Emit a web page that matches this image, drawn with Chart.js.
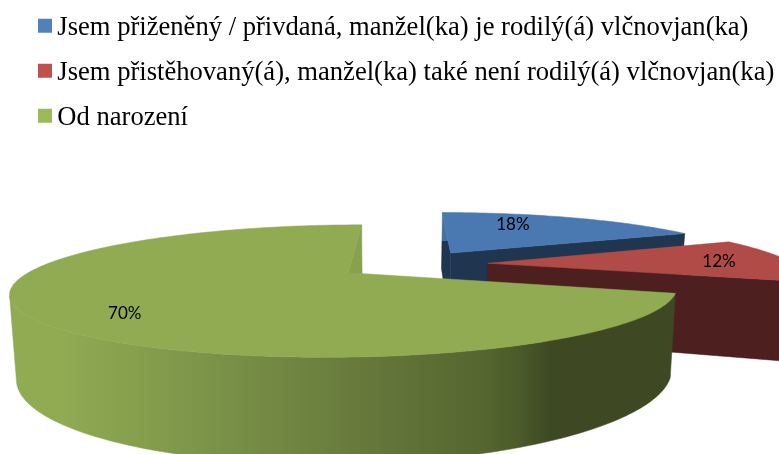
<!DOCTYPE html>
<html>
<head>
<meta charset="utf-8">
<style>html,body{margin:0;padding:0;background:#fff;overflow:hidden}canvas{display:block}</style>
<script src="https://cdn.jsdelivr.net/npm/chart.js@4"></script>
</head>
<body>
<canvas id="c" width="779" height="454"></canvas>
<script>
const categories = [
  'Jsem přiženěný / přivdaná, manžel(ka) je rodilý(á) vlčnovjan(ka)',
  'Jsem přistěhovaný(á), manžel(ka) také není rodilý(á) vlčnovjan(ka)',
  'Od narození'
];
const shares = [18, 12, 70];
const legendColors = ['#4f81bd', '#c0504d', '#9bbb59'];
const topColors = ['#4a78b0', '#b04b48', '#90ab52'];
const startWallColors = ['#45709f', '#4d1f1f', '#89a04c'];
const endWallColors = ['#1f3550', '#4d1f1f', '#89a04c'];
const rimWallColors = ['#1f3550', '#4d1f1f', null];
const startWallSplit = [0.26, 1, 1];
const labelAlong = [0.35, 0.53, 0.463];
const labelRadius = [0.705, 0.764, 0.795];

// perspective of the pie plane (horizon, vanishing point, tilt) and the drop to its lower face
const view = {vx: 410, vy: 52, u0: 0.004713, q: 0.001255, alpha: 1.45, beta0: 0.01, explode: 0.247, drop: 0.35, nadirX: 391, shrink: 0.982};

function project(X, Y, lower) {
  const u = view.u0 - view.q * Y;
  let x = view.vx + (view.beta0 + view.alpha * X) / u;
  let y = view.vy + 1 / u;
  if (lower) {
    y = view.vy + (y - view.vy) * (1 + view.drop);
    x = view.nadirX + (x - view.nadirX) * view.shrink;
  }
  return [x, y];
}
function area(pts) {
  let s = 0;
  pts.forEach((p, i) => { const q = pts[(i + 1) % pts.length]; s += p[0] * q[1] - q[0] * p[1]; });
  return s;
}
function fillPoly(ctx, pts, color) {
  ctx.beginPath();
  pts.forEach((p, i) => i ? ctx.lineTo(p[0], p[1]) : ctx.moveTo(p[0], p[1]));
  ctx.closePath();
  ctx.fillStyle = color;
  ctx.strokeStyle = color;
  ctx.lineWidth = 0.5;
  ctx.fill();
  ctx.stroke();
}
function swatch(color) {
  const c = document.createElement('canvas');
  c.width = 28; c.height = 32;
  const g = c.getContext('2d');
  g.fillStyle = color; g.fillRect(12, 7, 14, 14);
  return c;
}

const pie3d = {
  id: 'pie3d',
  beforeDatasetDraw(chart, args) {
    const ctx = chart.ctx;
    const arcs = args.meta.data;
    const grad = ctx.createLinearGradient(0, 0, 779, 0);
    [[60, '#90ab52'], [200, '#7c9549'], [380, '#64763a'], [480, '#56672f'], [520, '#4a5a2b'], [550, '#3e4923'], [779, '#3e4923']]
      .forEach(s => grad.addColorStop(s[0] / 779, s[1]));
    arcs.forEach((arc, i) => {
      const a0 = arc.startAngle, a1 = arc.endAngle, mid = (a0 + a1) / 2;
      const ox = view.explode * Math.cos(mid), oy = view.explode * Math.sin(mid);
      const steps = Math.max(8, Math.round((a1 - a0) / 0.02));
      const top = [], low = [];
      for (let k = 0; k <= steps; k++) {
        const t = a0 + (a1 - a0) * k / steps;
        top.push(project(ox + Math.cos(t), oy + Math.sin(t), false));
        low.push(project(ox + Math.cos(t), oy + Math.sin(t), true));
      }
      const apexT = project(ox, oy, false), apexL = project(ox, oy, true);
      // radial walls
      const startWall = [apexT, top[0], low[0], apexL];
      if (area(startWall) < 0) {
        let fill = startWallColors[i];
        if (startWallSplit[i] < 1) {
          fill = ctx.createLinearGradient(0, top[0][1], 0, apexL[1]);
          fill.addColorStop(0, startWallColors[i]);
          fill.addColorStop(startWallSplit[i], startWallColors[i]);
          fill.addColorStop(startWallSplit[i], endWallColors[i]);
          fill.addColorStop(1, endWallColors[i]);
        }
        fillPoly(ctx, startWall, fill);
      }
      const endWall = [top[steps], apexT, apexL, low[steps]];
      if (area(endWall) < 0) fillPoly(ctx, endWall, endWallColors[i]);
      // rim wall: only the run that faces the viewer
      const runT = [], runL = [];
      for (let k = 0; k < steps; k++) {
        const quad = [top[k], top[k + 1], low[k + 1], low[k]];
        if (area(quad) < 0) {
          if (!runT.length) { runT.push(top[k]); runL.push(low[k]); }
          runT.push(top[k + 1]); runL.push(low[k + 1]);
        }
      }
      if (runT.length) fillPoly(ctx, runT.concat(runL.reverse()), rimWallColors[i] || grad);
      // upper face
      fillPoly(ctx, [apexT].concat(top), topColors[i]);
    });
    // value labels
    ctx.fillStyle = '#000';
    ctx.font = '17px Lato';
    ctx.textAlign = 'center';
    ctx.textBaseline = 'middle';
    arcs.forEach((arc, i) => {
      const a0 = arc.startAngle, a1 = arc.endAngle, mid = (a0 + a1) / 2;
      const t = a0 + (a1 - a0) * labelAlong[i];
      const p = project(view.explode * Math.cos(mid) + labelRadius[i] * Math.cos(t),
                        view.explode * Math.sin(mid) + labelRadius[i] * Math.sin(t), false);
      ctx.fillText(shares[i] + '%', p[0], p[1]);
    });
    return false;
  }
};

new Chart(document.getElementById('c'), {
  type: 'pie',
  data: {
    labels: categories,
    datasets: [{data: shares, backgroundColor: topColors, borderWidth: 0}]
  },
  options: {
    responsive: false,
    animation: false,
    layout: {padding: {left: 17.6, top: -4}},
    plugins: {
      tooltip: {enabled: false},
      legend: {
        position: 'top',
        align: 'start',
        labels: {
          font: {family: 'Liberation Serif', size: 26.6},
          color: '#000',
          padding: 18.4,
          usePointStyle: true,
          pointStyleWidth: 8,
          generateLabels(chart) {
            return categories.map((text, i) => ({
              text, index: i, fillStyle: legendColors[i], strokeStyle: legendColors[i],
              lineWidth: 0, pointStyle: swatch(legendColors[i]), hidden: false
            }));
          }
        }
      }
    }
  },
  plugins: [pie3d]
});
</script>
</body>
</html>
